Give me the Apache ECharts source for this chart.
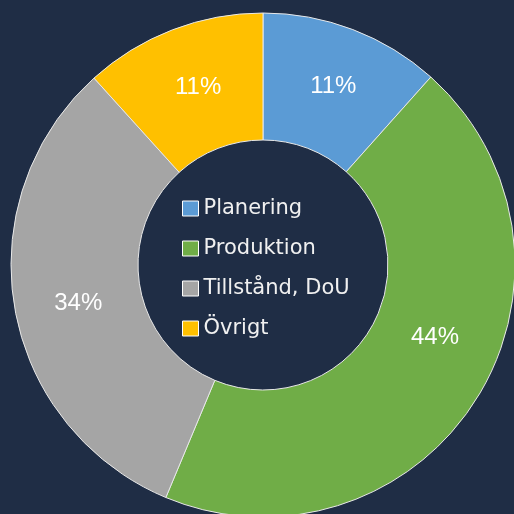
<!DOCTYPE html>
<html>
<head>
<meta charset="utf-8">
<script src="https://cdn.jsdelivr.net/npm/echarts@6/dist/echarts.min.js"></script>
<style>
  html, body { margin: 0; padding: 0; background: #1f2d45; }
  #chart { width: 514px; height: 514px; }
</style>
</head>
<body>
<div id="chart"></div>
<script>
// categories, slice sizes (as drawn) and the printed labels
let categories = ['Planering', 'Produktion', 'Tillstånd, DoU', 'Övrigt'];
let shares = [11.6, 44.7, 32.0, 11.7];
let shareLabels = ['11%', '44%', '34%', '11%'];
let colors = ['#5b9bd5', '#70ad47', '#a5a5a5', '#ffc000'];
// small nudges so the labels sit where the original has them
let labelOffsets = [[2, 0], [10, -30], [4, 6], [4, 1]];

let myChart = echarts.init(document.getElementById('chart'));

let pieData = [];
for (let i = 0; i < categories.length; i++) {
    pieData.push({
        name: categories[i],
        value: shares[i],
        itemStyle: { color: colors[i] },
        label: { offset: labelOffsets[i] }
    });
}

let option = {
    backgroundColor: '#1f2d45',
    animation: false,
    legend: {
        orient: 'vertical',
        left: 182,
        top: 198,
        padding: 0,
        icon: 'rect',
        itemWidth: 16,
        itemHeight: 15,
        itemGap: 19,
        itemStyle: { borderColor: '#ffffff', borderWidth: 1 },
        textStyle: {
            color: '#f0f0f0',
            fontSize: 21,
            fontFamily: 'DejaVu Sans',
            padding: [0, 0, 0, 0]
        },
        data: categories
    },
    series: [{
        type: 'pie',
        center: [263, 265],
        radius: [125, 252],
        startAngle: 90,
        clockwise: true,
        data: pieData,
        itemStyle: { borderColor: '#e8e8e8', borderWidth: 1 },
        label: {
            show: true,
            position: 'inside',
            formatter: function (p) { return shareLabels[p.dataIndex]; },
            color: '#ffffff',
            fontSize: 24,
            fontFamily: 'Liberation Sans'
        },
        labelLine: { show: false },
        emphasis: { disabled: true }
    }]
};

myChart.setOption(option);
</script>
</body>
</html>
